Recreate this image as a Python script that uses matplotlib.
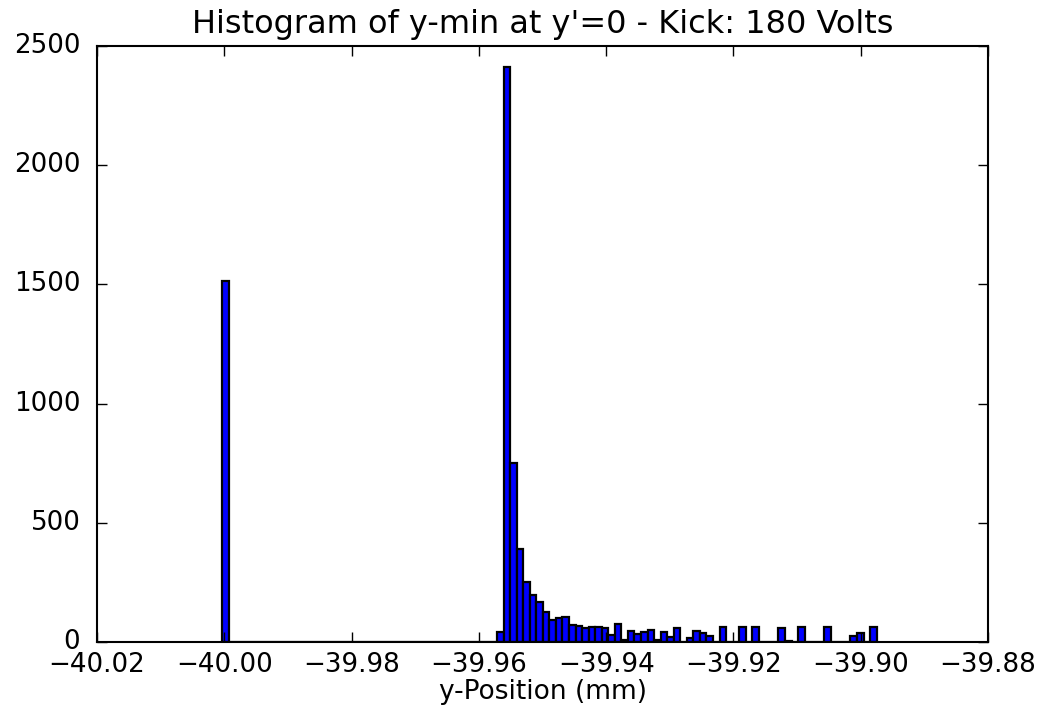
import numpy as np
import matplotlib
matplotlib.use('Agg')
import matplotlib.pyplot as plt

# histogram counts (100 bins)
counts = [1515] + [0]*41 + [
    40, 2412, 751, 392, 253, 196, 166, 126, 92, 100,
    105, 70, 66, 60, 63, 63, 58, 29, 77, 8,
    47, 35, 40, 49, 10, 40, 20, 57, 0, 16,
    46, 39, 26, 0, 64, 0, 2, 61, 0, 62,
    0, 0, 0, 57, 6, 0, 62, 0, 0, 0,
    63, 0, 0, 0, 25, 39, 0, 62]
x_min = -40.00035
x_max = -39.8975
xticks = [-40.02, -40.00, -39.98, -39.96, -39.94, -39.92, -39.90, -39.88]
yticks = [0, 500, 1000, 1500, 2000, 2500]

plt.style.use('classic')
fig = plt.figure(figsize=(10.52, 7.21), dpi=100, facecolor='white')
ax = fig.add_axes([0.0922, 0.1096, 0.8470, 0.8266])

edges = np.linspace(x_min, x_max, len(counts) + 1)
ax.bar(edges[:-1], counts, width=edges[1] - edges[0], align='edge',
       color='b', edgecolor='k', linewidth=1.6)

ax.set_xlim(-40.02, -39.88)
ax.set_ylim(0, 2500)
ax.set_xticks(xticks)
ax.set_xticklabels([('%.2f' % t).replace('-', '\u2212') for t in xticks])
ax.set_yticks(yticks)
ax.tick_params(labelsize=18.8, length=7, width=1, pad=7)
ax.tick_params(axis='y', pad=12)
ax.minorticks_off()
for s in ax.spines.values():
    s.set_linewidth(1.5)

ax.set_title("Histogram of y-min at y'=0 - Kick: 180 Volts", fontsize=23, pad=9)
ax.set_xlabel('y-Position (mm)', fontsize=19, labelpad=1)

fig.savefig('out.png', dpi=100, facecolor='white')
